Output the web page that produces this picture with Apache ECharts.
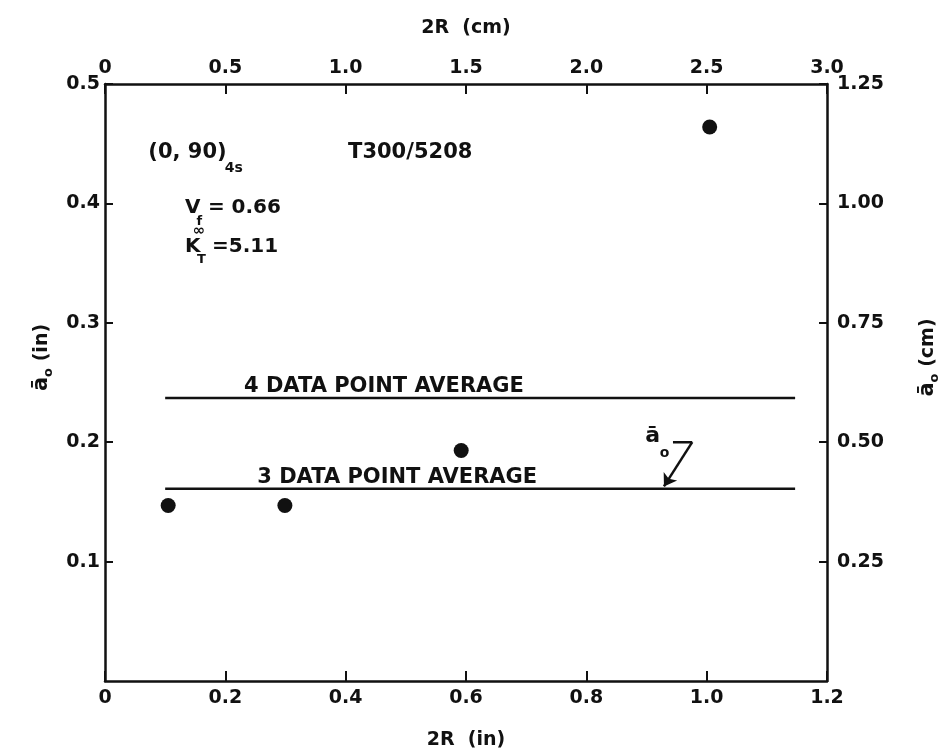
<!DOCTYPE html>
<html>
<head>
<meta charset="utf-8">
<script src="https://cdn.jsdelivr.net/npm/echarts@6/dist/echarts.min.js"></script>
<style>
  html, body { margin: 0; padding: 0; background: #fff; }
  #chart { width: 945px; height: 756px; }
</style>
</head>
<body>
<div id="chart"></div>
<script>
// Hole diameter 2R (in) and measured characteristic distance a0 (in)
const diameterIn = [0.105, 0.299, 0.592, 1.005];
const a0In = [0.147, 0.147, 0.193, 0.464];

// Average lines (in) and their horizontal extent (in)
const avg4 = 0.237;
const avg3 = 0.161;
const avgSpan = [0.1, 1.147];

// Tick labels
const bottomTicks = ['0', '0.2', '0.4', '0.6', '0.8', '1.0', '1.2'];
const topTicks = ['0', '0.5', '1.0', '1.5', '2.0', '2.5', '3.0'];
const leftTicks = ['0.1', '0.2', '0.3', '0.4', '0.5'];
const rightTicks = ['0.25', '0.50', '0.75', '1.00', '1.25'];

// Pointer from the a0 label to the 3-point average line
const pointerBar = [[0.944, 0.200], [0.976, 0.200]];
const pointerShaft = [[0.976, 0.200], [0.929, 0.163]];

const FONT = 'DejaVu Sans';
const INK = '#111';

function pick(list) {
  return function (v) {
    const hit = list.find(function (t) { return Math.abs(parseFloat(t) - v) < 1e-6; });
    return hit === undefined ? '' : hit;
  };
}

// Text annotations placed in data coordinates (left edge, vertical middle)
const notes = [
  { t: '(0, 90)', x: 0.072, y: 0.443, s: 21 },
  { t: '4s', x: 0.199, y: 0.429, s: 14 },
  { t: 'T300/5208', x: 0.404, y: 0.443, s: 21 },
  { t: 'V', x: 0.133, y: 0.396, s: 20 },
  { t: 'f', x: 0.152, y: 0.385, s: 13 },
  { t: '= 0.66', x: 0.171, y: 0.396, s: 20 },
  { t: 'K', x: 0.133, y: 0.364, s: 20 },
  { t: '\u221E', x: 0.146, y: 0.377, s: 15 },
  { t: 'T', x: 0.153, y: 0.353, s: 13 },
  { t: '=5.11', x: 0.178, y: 0.364, s: 20 },
  { t: '4 DATA POINT AVERAGE', x: 0.231, y: 0.247, s: 21 },
  { t: '3 DATA POINT AVERAGE', x: 0.253, y: 0.170, s: 21 },
  { t: '\u0101', x: 0.898, y: 0.205, s: 22 },
  { t: 'o', x: 0.922, y: 0.191, s: 14 }
];

const chart = echarts.init(document.getElementById('chart'), null, { renderer: 'canvas' });

const tickText = { color: INK, fontFamily: FONT, fontWeight: 'bold', fontSize: 19 };
const nameText = { color: INK, fontFamily: FONT, fontWeight: 'bold', fontSize: 19 };
const axisLine = { show: true, onZero: false, lineStyle: { color: INK, width: 2.5 } };
const nameRich = {
  a: { color: INK, fontFamily: FONT, fontWeight: 'bold', fontSize: 21, lineHeight: 26, verticalAlign: 'middle' },
  s: { color: INK, fontFamily: FONT, fontWeight: 'bold', fontSize: 13, lineHeight: 26, verticalAlign: 'bottom' },
  n: { color: INK, fontFamily: FONT, fontWeight: 'bold', fontSize: 19, lineHeight: 26, verticalAlign: 'middle' }
};

const option = {
  backgroundColor: '#fff',
  animation: false,
  grid: { left: 105, right: 118, top: 84, bottom: 75, containLabel: false, outerBoundsMode: 'none' },
  xAxis: [
    {
      type: 'value', position: 'bottom', min: 0, max: 1.2, interval: 0.2,
      name: '2R  (in)', nameLocation: 'middle', nameGap: 50, nameTextStyle: nameText,
      axisLine: axisLine,
      axisTick: { show: true, inside: true, length: 10, lineStyle: { color: INK, width: 2 } },
      axisLabel: Object.assign({ margin: 8, formatter: pick(bottomTicks) }, tickText),
      splitLine: { show: false }
    },
    {
      type: 'value', position: 'top', min: 0, max: 3.0, interval: 0.5,
      name: '2R  (cm)', nameLocation: 'middle', nameGap: 46, nameTextStyle: nameText,
      axisLine: axisLine,
      axisTick: { show: true, inside: true, length: 10, lineStyle: { color: INK, width: 2 } },
      axisLabel: Object.assign({ margin: 6, formatter: pick(topTicks) }, tickText),
      splitLine: { show: false }
    }
  ],
  yAxis: [
    {
      type: 'value', position: 'left', min: 0, max: 0.5, interval: 0.1,
      name: '{a|\u0101}{s|o}  {n|(in)}', nameLocation: 'middle', nameGap: 50, nameRotate: 90,
      nameTextStyle: { padding: [0, 0, 0, 50], rich: nameRich },
      axisLine: axisLine,
      axisTick: { show: true, inside: true, length: 8, lineStyle: { color: INK, width: 2 } },
      axisLabel: Object.assign({ margin: 5, showMinLabel: false, formatter: pick(leftTicks) }, tickText),
      splitLine: { show: false }
    },
    {
      type: 'value', position: 'right', min: 0, max: 1.25, interval: 0.25,
      name: '{a|\u0101}{s|o}  {n|(cm)}', nameLocation: 'middle', nameGap: 88, nameRotate: 90,
      nameTextStyle: { padding: [0, 0, 0, 50], rich: nameRich },
      axisLine: axisLine,
      axisTick: { show: true, inside: true, length: 8, lineStyle: { color: INK, width: 2 } },
      axisLabel: Object.assign({ margin: 10, showMinLabel: false, formatter: pick(rightTicks) }, tickText),
      splitLine: { show: false }
    }
  ],
  series: [
    {
      name: 'measured', type: 'scatter', xAxisIndex: 0, yAxisIndex: 0,
      symbol: 'circle', symbolSize: 15,
      itemStyle: { color: INK, opacity: 1 },
      data: diameterIn.map(function (d, i) { return [d, a0In[i]]; })
    },
    {
      name: 'avg4', type: 'line', xAxisIndex: 0, yAxisIndex: 0, symbol: 'none',
      lineStyle: { color: INK, width: 2.5 },
      data: avgSpan.map(function (x) { return [x, avg4]; })
    },
    {
      name: 'avg3', type: 'line', xAxisIndex: 0, yAxisIndex: 0, symbol: 'none',
      lineStyle: { color: INK, width: 2.5 },
      data: avgSpan.map(function (x) { return [x, avg3]; })
    },
    {
      name: 'pointerBar', type: 'line', xAxisIndex: 0, yAxisIndex: 0, symbol: 'none',
      lineStyle: { color: INK, width: 2.5 },
      data: pointerBar
    },
    {
      name: 'pointerShaft', type: 'lines', coordinateSystem: 'cartesian2d', xAxisIndex: 0, yAxisIndex: 0,
      symbol: ['none', 'arrow'], symbolSize: 12,
      lineStyle: { color: INK, width: 2.5, opacity: 1 },
      data: [{ coords: pointerShaft }]
    }
  ]
};

chart.setOption(option);

// Place the text annotations through the cartesian coordinate system
chart.setOption({
  graphic: notes.map(function (n) {
    const p = chart.convertToPixel({ xAxisIndex: 0, yAxisIndex: 0 }, [n.x, n.y]);
    return {
      type: 'text', x: p[0], y: p[1], silent: true,
      style: {
        text: n.t, fill: INK, font: 'bold ' + n.s + 'px "' + FONT + '"',
        textAlign: 'left', textVerticalAlign: 'middle', verticalAlign: 'middle'
      }
    };
  })
});
</script>
</body>
</html>
